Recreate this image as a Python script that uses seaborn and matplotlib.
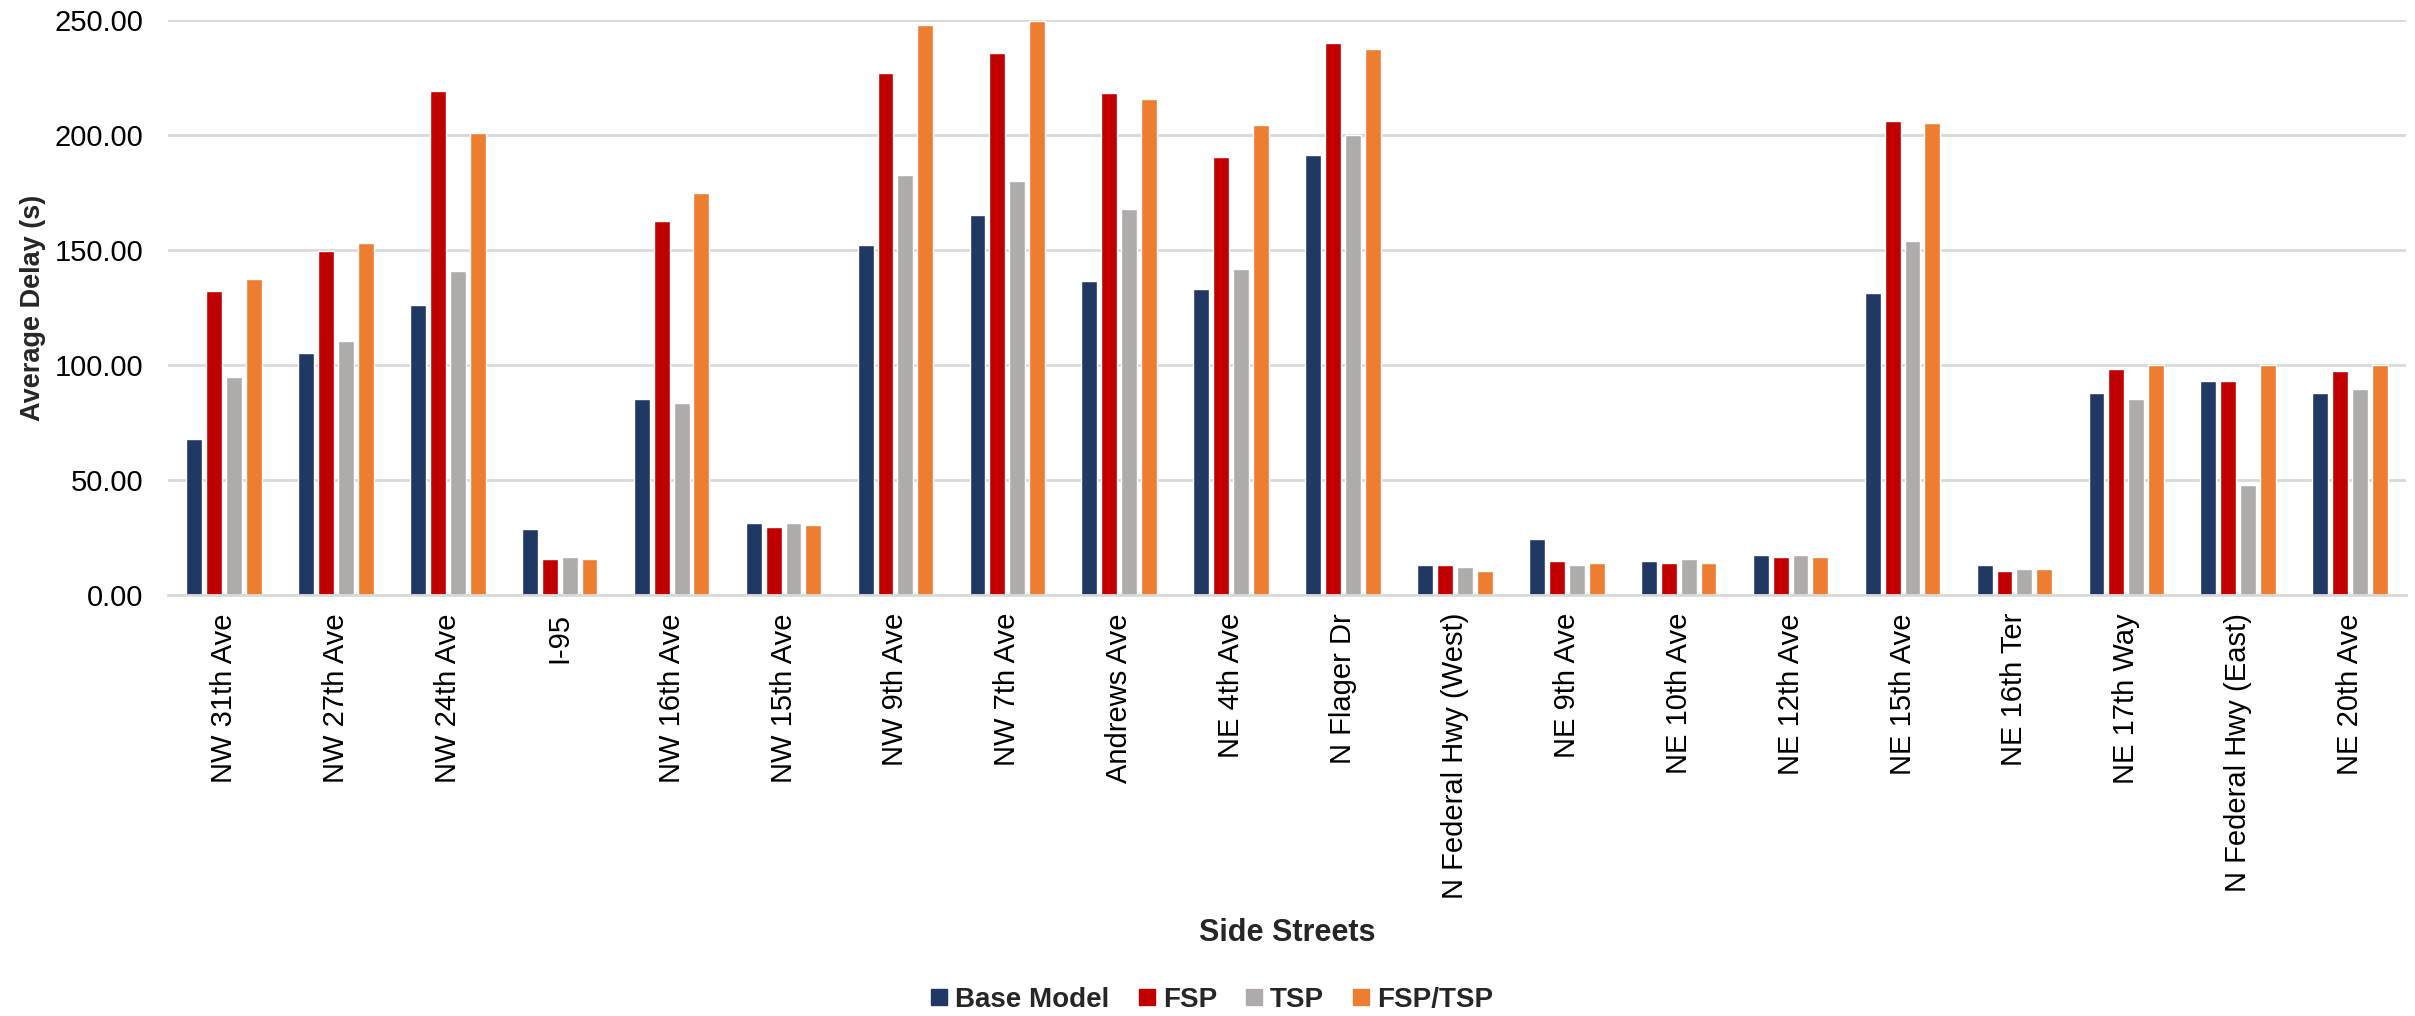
import pandas as pd
import matplotlib
matplotlib.use('Agg')
import matplotlib.pyplot as plt
import seaborn as sns

streets = ["NW 31th Ave", "NW 27th Ave", "NW 24th Ave", "I-95", "NW 16th Ave",
           "NW 15th Ave", "NW 9th Ave", "NW 7th Ave", "Andrews Ave", "NE 4th Ave",
           "N Flager Dr", "N Federal Hwy (West)", "NE 9th Ave", "NE 10th Ave",
           "NE 12th Ave", "NE 15th Ave", "NE 16th Ter", "NE 17th Way",
           "N Federal Hwy (East)", "NE 20th Ave"]

base_model = [67.9, 105.2, 126.1, 28.7, 85.2, 31.3, 152.1, 165.1, 136.4, 133.0,
              191.2, 13.1, 24.4, 14.8, 17.4, 131.3, 13.1, 87.8, 93.0, 87.8]
fsp = [132.1, 149.5, 219.1, 15.6, 162.5, 29.6, 226.8, 235.6, 218.2, 190.4,
       239.9, 13.1, 14.8, 13.9, 16.5, 206.0, 10.5, 98.3, 93.0, 97.4]
tsp = [94.8, 110.5, 140.9, 16.5, 83.5, 31.3, 182.5, 179.9, 167.7, 141.8,
       200.0, 12.2, 13.1, 15.6, 17.4, 154.0, 11.3, 85.2, 47.8, 89.5]
fsp_tsp = [137.3, 152.9, 200.9, 15.6, 174.7, 30.4, 247.8, 249.5, 215.6, 204.3,
           237.3, 10.5, 13.9, 13.9, 16.5, 205.2, 11.3, 100.0, 100.0, 100.0]

scenarios = ["Base Model", "FSP", "TSP", "FSP/TSP"]
colors = ["#203864", "#C00000", "#AFABAB", "#ED7D31"]

# long format for seaborn
series = {"Base Model": base_model, "FSP": fsp, "TSP": tsp, "FSP/TSP": fsp_tsp}
rows = []
for name in scenarios:
    for street, val in zip(streets, series[name]):
        rows.append({"street": street, "scenario": name, "delay": val})
df = pd.DataFrame(rows)

sns.set_style("white")
plt.rcParams['font.family'] = ['Liberation Sans', 'DejaVu Sans']

fig = plt.figure(figsize=(24.15, 10.16), dpi=100)
ax = fig.add_axes([0.0696, 0.4144, 0.9267, 0.5661])

sns.barplot(data=df, x="street", y="delay", hue="scenario", order=streets,
            hue_order=scenarios, palette=colors, saturation=1, width=0.71,
            gap=0.2, ax=ax)

ax.set_ylim(0, 250)
ax.set_yticks([0, 50, 100, 150, 200, 250])
ax.set_yticklabels([f"{v:.2f}" for v in [0, 50, 100, 150, 200, 250]])
ax.yaxis.grid(True, color="#D9D9D9", linewidth=2)
ax.set_axisbelow(True)
for s in ["top", "right", "left"]:
    ax.spines[s].set_visible(False)
ax.spines["bottom"].set_color("#D9D9D9")
ax.spines["bottom"].set_linewidth(2)

ax.tick_params(axis="y", length=0, pad=18, labelsize=21, labelcolor="black")
ax.tick_params(axis="x", length=0, pad=13, labelsize=21, labelcolor="black")
plt.setp(ax.get_xticklabels(), rotation=90)

ax.set_xlabel("Side Streets", fontsize=22, fontweight="bold")
ax.set_ylabel("Average Delay (s)", fontsize=19.5, fontweight="bold")
ax.xaxis.set_label_coords(0.5, -0.562)
ax.yaxis.set_label_coords(-0.0545, 0.5)

ax.get_legend().remove()
handles = [plt.Rectangle((0, 0), 1, 1, color=c) for c in colors]
fig.legend(handles, scenarios, loc="center", bbox_to_anchor=(0.502, 0.016),
           ncol=4, frameon=False, prop={"size": 20, "weight": "bold"},
           handlelength=0.58, handleheight=0.55, handletextpad=0.29,
           columnspacing=1.04)

fig.savefig("out.png", dpi=100)
